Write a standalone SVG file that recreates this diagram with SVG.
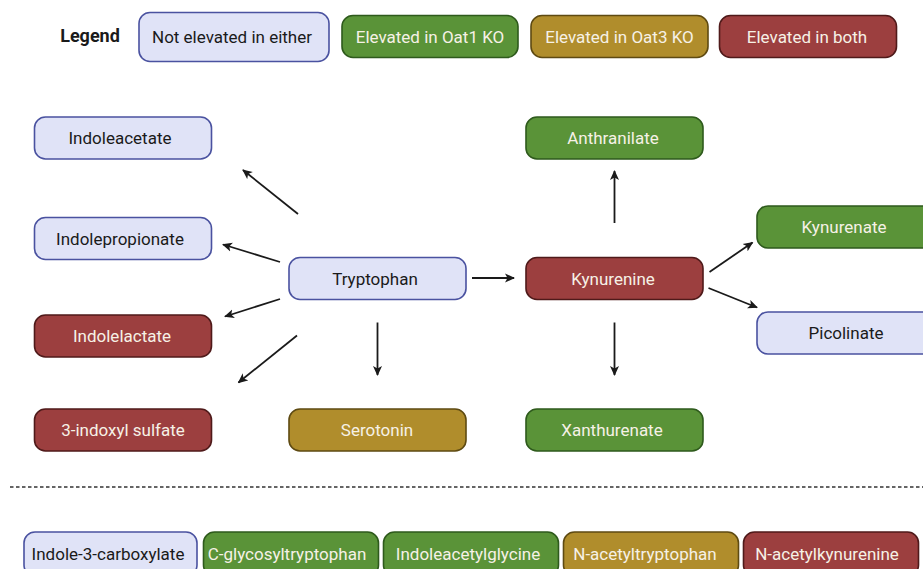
<svg xmlns="http://www.w3.org/2000/svg" width="923" height="569" viewBox="0 0 923 569">
<defs>
<marker id="ah" markerWidth="10" markerHeight="10" refX="9" refY="5" orient="auto" markerUnits="userSpaceOnUse">
<path d="M0,0.5 L10,5 L0,9.5 L2.5,5 Z" fill="#1a1a1a"/>
</marker>
<style>
text{font-family:Roboto,"Liberation Sans",sans-serif;font-size:17px;text-anchor:middle}
.nb rect{fill:#e0e3f7;stroke:#4a52a0;stroke-width:1.6}
.nb text{fill:#1a1a1a}
.g rect{fill:#5a9338;stroke:#2e5a1c;stroke-width:1.6}
.o rect{fill:#b08d2c;stroke:#5e4a12;stroke-width:1.6}
.r rect{fill:#9c3f3f;stroke:#4f1a1a;stroke-width:1.6}
.g text,.o text,.r text{fill:#f6f1e6}
.bt text{font-size:17px}
#connectors line{stroke:#1a1a1a;stroke-width:1.8;marker-end:url(#ah)}
</style>
</defs>
<rect width="923" height="569" fill="#ffffff"/>
<g id="legend">
<text x="90" y="42" style="font-weight:bold;font-size:18px;fill:#1a1a1a">Legend</text>
<g id="leg-none" class="nb"><rect x="139" y="12.5" width="190" height="49" rx="11"/><text x="232" y="42.5">Not elevated in either</text></g>
<g id="leg-oat1" class="g"><rect x="342" y="15.5" width="176" height="42" rx="11"/><text x="430" y="42.5">Elevated in Oat1 KO</text></g>
<g id="leg-oat3" class="o"><rect x="531" y="15.5" width="177" height="42" rx="11"/><text x="619.5" y="42.5">Elevated in Oat3 KO</text></g>
<g id="leg-both" class="r"><rect x="719.5" y="15.5" width="177" height="42" rx="11"/><text x="807" y="42.5">Elevated in both</text></g>
</g>
<g id="indoleacetate" class="nb"><rect x="34.5" y="117" width="177" height="42" rx="11"/><text x="120" y="144">Indoleacetate</text></g>
<g id="indolepropionate" class="nb"><rect x="34.5" y="217.5" width="177" height="42" rx="11"/><text x="120" y="244.5">Indolepropionate</text></g>
<g id="indolelactate" class="r"><rect x="34.5" y="315" width="177" height="42" rx="11"/><text x="122" y="342">Indolelactate</text></g>
<g id="indoxyl-sulfate" class="r"><rect x="34.5" y="409" width="177" height="42" rx="11"/><text x="123" y="436">3-indoxyl sulfate</text></g>
<g id="tryptophan" class="nb"><rect x="289" y="257.5" width="177" height="42" rx="11"/><text x="375" y="284.5">Tryptophan</text></g>
<g id="serotonin" class="o"><rect x="289" y="409" width="177" height="42" rx="11"/><text x="377" y="436">Serotonin</text></g>
<g id="anthranilate" class="g"><rect x="526" y="117" width="177" height="42" rx="11"/><text x="613" y="144">Anthranilate</text></g>
<g id="kynurenine" class="r"><rect x="526" y="257.5" width="177" height="42" rx="11"/><text x="613" y="284.5">Kynurenine</text></g>
<g id="xanthurenate" class="g"><rect x="526" y="409" width="177" height="42" rx="11"/><text x="612" y="436">Xanthurenate</text></g>
<g id="kynurenate" class="g"><rect x="757" y="206" width="177" height="42" rx="11"/><text x="844" y="233">Kynurenate</text></g>
<g id="picolinate" class="nb"><rect x="757" y="312" width="177" height="42" rx="11"/><text x="846" y="339">Picolinate</text></g>
<g id="connectors">
<line x1="298" y1="214" x2="243" y2="170"/>
<line x1="280" y1="262" x2="223" y2="244.5"/>
<line x1="280" y1="299" x2="225" y2="316.5"/>
<line x1="297" y1="335.5" x2="238.5" y2="382.5"/>
<line x1="377.5" y1="322.5" x2="377.5" y2="375"/>
<line x1="472" y1="278" x2="514" y2="278"/>
<line x1="614.5" y1="223" x2="614.5" y2="171"/>
<line x1="614.5" y1="322.5" x2="614.5" y2="375"/>
<line x1="709.5" y1="272" x2="752.5" y2="242.5"/>
<line x1="708.5" y1="288" x2="757" y2="307.5"/>
</g>
<line id="divider" x1="10" y1="487" x2="923" y2="487" stroke="#333" stroke-width="1.6" stroke-dasharray="3.5 2.5"/>
<g id="indole-3-carboxylate" class="nb bt"><rect x="24" y="532" width="173" height="44" rx="11"/><text x="108" y="559.5">Indole-3-carboxylate</text></g>
<g id="c-glycosyltryptophan" class="g bt"><rect x="203.5" y="532" width="175" height="44" rx="11"/><text x="287" y="559.5">C-glycosyltryptophan</text></g>
<g id="indoleacetylglycine" class="g bt"><rect x="383.5" y="532" width="175" height="44" rx="11"/><text x="468" y="559.5">Indoleacetylglycine</text></g>
<g id="n-acetyltryptophan" class="o bt"><rect x="563.5" y="532" width="175" height="44" rx="11"/><text x="645" y="559.5">N-acetyltryptophan</text></g>
<g id="n-acetylkynurenine" class="r bt"><rect x="743.5" y="532" width="175" height="44" rx="11"/><text x="827" y="559.5">N-acetylkynurenine</text></g>
</svg>
